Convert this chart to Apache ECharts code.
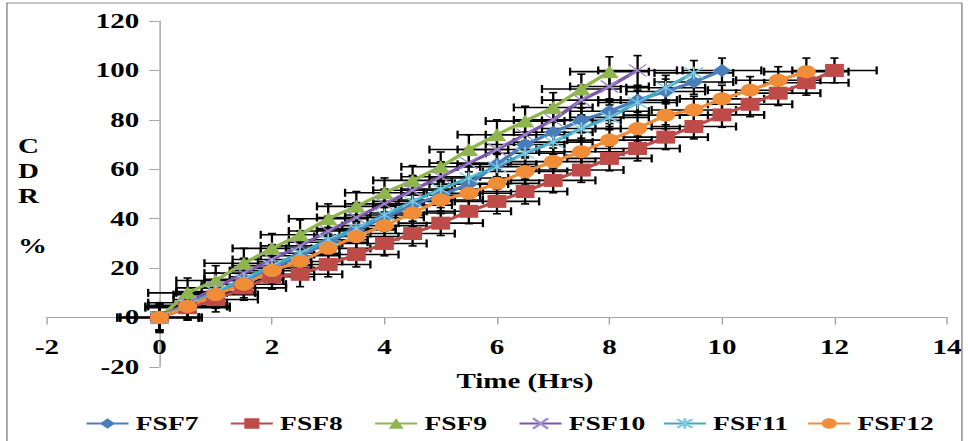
<!DOCTYPE html>
<html>
<head>
<meta charset="utf-8">
<script src="https://cdn.jsdelivr.net/npm/echarts/dist/echarts.min.js"></script>
<style>
  html, body { margin: 0; padding: 0; background: #fff; overflow: hidden; }
  #stage { width: 968px; height: 441px; overflow: hidden; position: relative; background: #fff; }
  /* the figure is laid out narrow and stretched horizontally */
  #chart { width: 668px; height: 441px; transform: scaleX(1.4491); transform-origin: 0 0; }
</style>
</head>
<body>
<div id="stage"><div id="chart"></div></div>
<script>
// Sampling times (hours)
const TIME = [0, 0.5, 1, 1.5, 2, 2.5, 3, 3.5, 4, 4.5, 5, 5.5, 6, 6.5, 7, 7.5, 8, 8.5, 9, 9.5, 10, 10.5, 11, 11.5, 12];

// Cumulative drug release (%) per formulation
const FSF7  = [0, 4.5, 10, 15, 20, 25, 30.5, 35.5, 40.5, 45.5, 49.5, 54, 62, 70, 75, 79.8, 83.5, 88, 91.5, 95.3, 100];
const FSF8  = [0, 4, 7.3, 12, 16.5, 17.5, 21.5, 25.5, 30, 34, 38.2, 43, 47, 51, 55.5, 59.7, 64.4, 68.4, 73, 77.3, 82, 86.3, 90.8, 95, 100];
const FSF9  = [0, 10, 15, 22, 28, 33.5, 40, 45, 50.5, 55.5, 61, 68, 74, 79.5, 85, 92.5, 99.5];
const FSF10 = [0, 6, 12, 18, 23.5, 29, 35, 40.5, 46, 51.5, 57, 62.5, 68, 74, 80, 88, 93.5, 100];
const FSF11 = [0, 5, 10.5, 15.5, 21, 26, 31.5, 36, 41.5, 47, 52, 56.5, 61, 66.5, 71, 76.5, 81, 87, 93, 99];
const FSF12 = [0, 4.5, 9.3, 13.5, 19, 22.7, 28, 32.8, 37.2, 42.3, 47.6, 50.3, 54.3, 59.1, 63.1, 67.1, 71.8, 76.5, 81.9, 84, 88.5, 92, 96, 99.5];

// Error bar half-widths per formulation: time (h) and release (%)
const ERR_TIME = [0.7, 0.75, 0.7, 0.7, 0.7, 0.75];
const ERR_CDR  = [5, 5, 6, 6, 5, 5.5];

const SERIES_NAMES = ['FSF7', 'FSF8', 'FSF9', 'FSF10', 'FSF11', 'FSF12'];
const SERIES_DATA  = [FSF7, FSF8, FSF9, FSF10, FSF11, FSF12];

const X_TICKS = { min: -2, max: 14, step: 2 };
const Y_TICKS = { min: -20, max: 120, step: 20 };

const FONT = 'Liberation Serif, Times New Roman, serif';

const GRID = { left: 32.4, right: 14.5, top: 21, bottom: 74 };
const CHART_H = 441;

// legend entries sit in equal-width cells along the bottom
const LEGEND_LEFT = 58.7, LEGEND_STEP = 99.6, LEGEND_TOP = 414;

const styles = [
  { color: '#4A7EBB', symbol: 'diamond', size: 13 },
  { color: '#BE4B48', symbol: 'rect', size: 13 },
  { color: '#8FB64C', symbol: 'triangle', size: 13 },
  { color: '#7A55A8', symbol: 'path://M0,0L10,10M10,0L0,10', size: 12, marker: '#A08CC8' },
  { color: '#3FA9C7', symbol: 'path://M0,0L10,10M10,0L0,10M5,-1L5,11', size: 13, marker: '#7CCBE0' },
  { color: '#F18C37', symbol: 'circle', size: 13 }
];

function errorBarRender(params, api) {
  const x = api.value(0), y = api.value(1), ex = api.value(2), ey = api.value(3);
  const l = api.coord([x - ex, y]);
  const r = api.coord([x + ex, y]);
  const t = api.coord([x, y + ey]);
  const b = api.coord([x, y - ey]);
  const st = { stroke: '#000', lineWidth: 1.6 };
  const capH = 4, capV = 2.8;
  return {
    type: 'group',
    children: [
      { type: 'line', shape: { x1: l[0], y1: l[1], x2: r[0], y2: r[1] }, style: st },
      { type: 'line', shape: { x1: l[0], y1: l[1] - capH, x2: l[0], y2: l[1] + capH }, style: st },
      { type: 'line', shape: { x1: r[0], y1: r[1] - capH, x2: r[0], y2: r[1] + capH }, style: st },
      { type: 'line', shape: { x1: t[0], y1: t[1], x2: b[0], y2: b[1] }, style: st },
      { type: 'line', shape: { x1: t[0] - capV, y1: t[1], x2: t[0] + capV, y2: t[1] }, style: st },
      { type: 'line', shape: { x1: b[0] - capV, y1: b[1], x2: b[0] + capV, y2: b[1] }, style: st }
    ]
  };
}

const series = [];
SERIES_DATA.forEach((vals, i) => {
  const pts = vals.map((v, k) => [TIME[k], v]);
  series.push({
    type: 'custom',
    silent: true,
    z: 2,
    renderItem: errorBarRender,
    data: vals.map((v, k) => [TIME[k], v, ERR_TIME[i], ERR_CDR[i]])
  });
  const s = styles[i];
  series.push({
    name: SERIES_NAMES[i],
    type: 'line',
    z: 2,
    data: pts,
    symbol: s.symbol,
    symbolSize: s.size,
    showAllSymbol: true,
    lineStyle: { color: s.color, width: 3 },
    itemStyle: s.marker
      ? { color: s.marker, borderColor: s.marker, borderWidth: 1.2 }
      : { color: s.color, borderColor: s.color, borderWidth: 0 },
    animation: false
  });
});

const legends = SERIES_NAMES.map((name, i) => ({
  data: [name],
  left: LEGEND_LEFT + i * LEGEND_STEP,
  top: LEGEND_TOP,
  padding: 0,
  itemWidth: 29,
  itemHeight: 13,
  textStyle: { fontFamily: FONT, fontWeight: 'bold', fontSize: 19, color: '#000' }
}));

const axisLabelStyle = { fontFamily: FONT, fontWeight: 'bold', fontSize: 20, color: '#000' };

const chart = echarts.init(document.getElementById('chart'), null, { renderer: 'svg' });
chart.setOption({
  backgroundColor: '#fff',
  animation: false,
  grid: Object.assign({ containLabel: false, outerBoundsMode: 'none' }, GRID),
  xAxis: {
    type: 'value',
    min: X_TICKS.min, max: X_TICKS.max, interval: X_TICKS.step,
    splitLine: { show: false },
    axisLine: { onZero: false, lineStyle: { color: '#A6A6A6', width: 1 } },
    axisTick: { show: true, length: 7, lineStyle: { color: '#A6A6A6' } },
    axisLabel: Object.assign({ margin: 20 }, axisLabelStyle)
  },
  yAxis: {
    type: 'value',
    min: Y_TICKS.min, max: Y_TICKS.max, interval: Y_TICKS.step,
    splitLine: { show: false },
    axisLine: { onZero: false, lineStyle: { color: '#A6A6A6', width: 1 } },
    axisTick: { show: true, length: 7, lineStyle: { color: '#A6A6A6' } },
    axisLabel: Object.assign({ margin: 14 }, axisLabelStyle)
  },
  legend: legends,
  graphic: [
    {
      type: 'rect', silent: true, z: 0,
      shape: { x: 4.8, y: 3, width: 659, height: 500 },
      style: { fill: 'none', stroke: '#8C8C8C', lineWidth: 1 }
    },
    {
      type: 'text', left: 12.4, top: 134,
      style: { text: 'C\nD\nR\n\n%', fontFamily: FONT, fontWeight: 'bold', fontSize: 20, lineHeight: 25, fill: '#000' }
    },
    {
      type: 'text', x: 362.3, y: 381,
      style: { text: 'Time (Hrs)', fontFamily: FONT, fontWeight: 'bold', fontSize: 20, fill: '#000', align: 'center', verticalAlign: 'middle' }
    }
  ],
  series: series
});

// Move both axes so they cross at the origin (0 h, 0 %)
const origin = chart.convertToPixel({ gridIndex: 0 }, [0, 0]);
chart.setOption({
  xAxis: { offset: -((CHART_H - GRID.bottom) - origin[1]) },
  yAxis: { offset: -(origin[0] - GRID.left) }
});
</script>
</body>
</html>
